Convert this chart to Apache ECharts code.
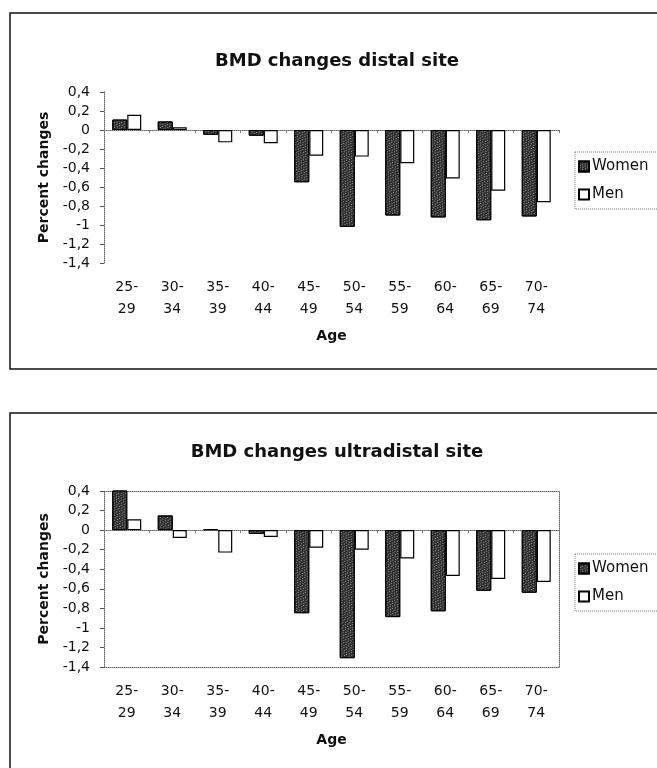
<!DOCTYPE html>
<html>
<head>
<meta charset="utf-8">
<script src="https://cdn.jsdelivr.net/npm/echarts@6/dist/echarts.min.js"></script>
<style>
  html, body { margin: 0; padding: 0; background: #fff; }
  #chart { width: 657px; height: 768px; }
</style>
</head>
<body>
<div id="chart"></div>
<script>
// ---- data ----
const categories = ['25-\n29', '30-\n34', '35-\n39', '40-\n44', '45-\n49', '50-\n54', '55-\n59', '60-\n64', '65-\n69', '70-\n74'];
const seriesNames = ['Women', 'Men'];
const distalWomen = [0.11, 0.09, -0.05, -0.06, -0.55, -1.02, -0.90, -0.92, -0.95, -0.91];
const distalMen   = [0.16, 0.03, -0.13, -0.14, -0.27, -0.28, -0.35, -0.51, -0.64, -0.76];
const ultraWomen  = [0.42, 0.15, 0.01, -0.04, -0.85, -1.31, -0.89, -0.83, -0.62, -0.64];
const ultraMen    = [0.11, -0.08, -0.23, -0.07, -0.18, -0.20, -0.29, -0.47, -0.50, -0.53];
const titles = ['BMD changes distal site', 'BMD changes ultradistal site'];
const yMin = -1.4, yMax = 0.4, yStep = 0.2;
const xName = 'Age';
const yName = 'Percent changes';

// ---- styles ----
const FONT = 'DejaVu Sans';
const dotted = { type: 'dotted', color: '#666', width: 1 };
const womenStyle = {
  color: '#2e2e2e', borderColor: '#000', borderWidth: 1,
  decal: { symbol: 'rect', symbolSize: 1, dashArrayX: [[1, 2], [0, 1, 1, 1]], dashArrayY: [1, 1], color: 'rgba(255,255,255,0.5)', rotation: 0.6 }
};
const menStyle = { color: '#fff', borderColor: '#000', borderWidth: 1.2 };
const fmt = v => Number(v.toFixed(1)).toString().replace('.', ',');

const grids = [
  { left: 104, top: 92, width: 455, height: 171 },
  { left: 104, top: 491, width: 455, height: 176 }
];

const xAxes = [], yAxes = [], series = [], titleOpts = [], legends = [];
grids.forEach((g, gi) => {
  const labelIdx = xAxes.length;
  xAxes.push({
    gridIndex: gi, type: 'category', data: categories, position: 'bottom',
    axisLine: { onZero: false, show: gi === 1, lineStyle: dotted },
    axisTick: { show: false },
    axisLabel: { margin: 13, lineHeight: 22, fontSize: 14, color: '#111', fontFamily: FONT },
    name: xName, nameLocation: 'middle', nameGap: 66,
    nameTextStyle: { fontSize: 14, fontWeight: 'bold', color: '#111', fontFamily: FONT }
  });
  xAxes.push({
    gridIndex: gi, type: 'category', data: categories, position: 'bottom',
    axisLine: { onZero: true, lineStyle: dotted },
    axisTick: { show: true, length: 3, lineStyle: { color: '#777' } },
    axisLabel: { show: false }
  });
  if (gi === 1) {
    xAxes.push({
      gridIndex: gi, type: 'category', data: categories, position: 'top',
      axisLine: { onZero: false, lineStyle: dotted },
      axisTick: { show: false }, axisLabel: { show: false }
    });
  }
  const yIdx = yAxes.length;
  yAxes.push({
    gridIndex: gi, type: 'value', min: yMin, max: yMax, interval: yStep,
    axisLine: { show: true, lineStyle: dotted },
    axisTick: { show: true, length: 4, lineStyle: { color: '#555' } },
    splitLine: { show: false },
    axisLabel: { formatter: fmt, fontSize: 14, color: '#111', margin: 14, fontFamily: FONT },
    name: yName, nameLocation: 'middle', nameRotate: 90, nameGap: 52,
    nameTextStyle: { fontSize: 14, fontWeight: 'bold', color: '#111', fontFamily: FONT }
  });
  if (gi === 1) {
    yAxes.push({
      gridIndex: gi, type: 'value', min: yMin, max: yMax, interval: yStep, position: 'right',
      axisLine: { show: true, lineStyle: dotted }, axisTick: { show: false },
      axisLabel: { show: false }, splitLine: { show: false }
    });
  }
  const w = gi === 0 ? distalWomen : ultraWomen;
  const m = gi === 0 ? distalMen : ultraMen;
  series.push({ name: seriesNames[0], type: 'bar', xAxisIndex: labelIdx, yAxisIndex: yIdx, data: w, barWidth: 15, barGap: '0%', itemStyle: womenStyle, clip: true });
  series.push({ name: seriesNames[1], type: 'bar', xAxisIndex: labelIdx, yAxisIndex: yIdx, data: m, barWidth: 14, barGap: '0%', itemStyle: menStyle, clip: true });
  titleOpts.push({
    text: titles[gi], left: 332, textAlign: 'center', top: gi === 0 ? 47 : 438,
    textStyle: { fontSize: 18, fontWeight: 'bold', color: '#111', fontFamily: FONT }
  });
  legends.push({
    data: seriesNames, orient: 'vertical', left: 575, top: gi === 0 ? 152 : 554,
    icon: 'rect', itemWidth: 10, itemHeight: 10, itemGap: 13,
    padding: [7, 40, 7, 3],
    borderColor: '#777', borderWidth: 1, borderType: 'dotted',
    textStyle: { fontSize: 15, color: '#111', fontFamily: FONT, padding: [0, 0, 0, -2] }
  });
});

const chart = echarts.init(document.getElementById('chart'), null, { renderer: 'canvas' });
chart.setOption({
  animation: false,
  backgroundColor: '#fff',
  title: titleOpts,
  legend: legends,
  grid: grids,
  xAxis: xAxes,
  yAxis: yAxes,
  series: series,
  graphic: [
    { type: 'rect', shape: { x: 10, y: 13, width: 700, height: 356 }, style: { fill: 'none', stroke: '#111', lineWidth: 1.5 }, silent: true },
    { type: 'rect', shape: { x: 10, y: 413, width: 700, height: 400 }, style: { fill: 'none', stroke: '#111', lineWidth: 1.5 }, silent: true }
  ]
});
</script>
</body>
</html>
